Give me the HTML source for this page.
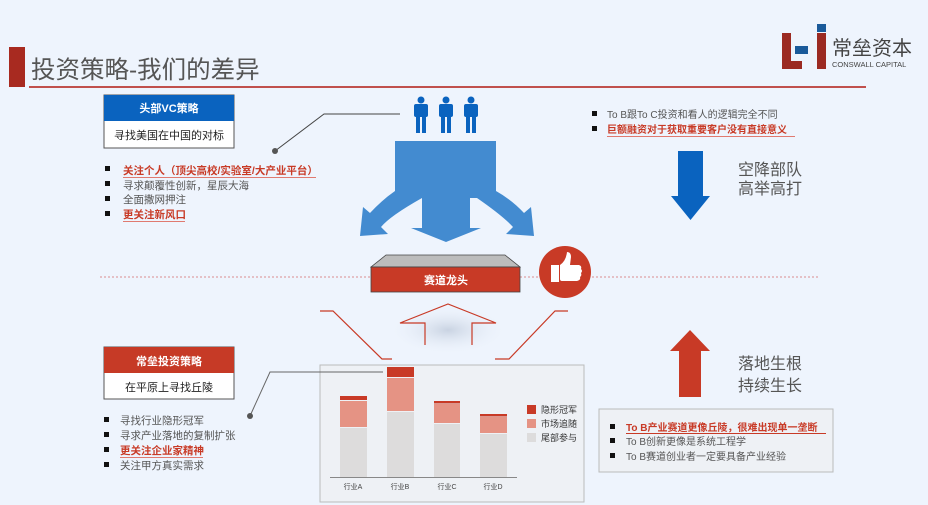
<!DOCTYPE html>
<html><head><meta charset="utf-8"><style>
body{margin:0;width:928px;height:505px;background:#eef4fd;overflow:hidden;font-family:"Liberation Sans","Noto Sans CJK SC",sans-serif;}
svg{position:absolute;left:0;top:0}
</style></head><body>
<svg width="928" height="505" viewBox="0 0 928 505" font-family="Liberation Sans, Noto Sans CJK SC, sans-serif">
<defs>
<radialGradient id="glow" cx="0.5" cy="0.5" r="0.5"><stop offset="0" stop-color="#c9d3e2"/><stop offset="1" stop-color="#eef4fd" stop-opacity="0"/></radialGradient>
</defs>
<!-- title -->
<rect x="9" y="47" width="16" height="40" fill="#a82a20"/>
<text x="31" y="78" font-size="24.5" fill="#555">投资策略-我们的差异</text>
<rect x="29" y="86" width="837" height="2" fill="#c0504d"/>
<!-- logo -->
<rect x="782" y="33" width="9" height="36" fill="#9b2a22"/>
<rect x="782" y="61" width="20" height="8" fill="#9b2a22"/>
<rect x="795" y="46" width="13" height="8" fill="#1a5a9a"/>
<rect x="817" y="33" width="9" height="36" fill="#9b2a22"/>
<rect x="817" y="24" width="9" height="8" fill="#1a5a9a"/>
<text x="832" y="55" font-size="20" fill="#444">常垒资本</text>
<text x="832" y="67" font-size="7.5" fill="#444">CONSWALL CAPITAL</text>
<!-- VC box -->
<rect x="104" y="95" width="130" height="53" fill="#fff" stroke="#555"/>
<rect x="104" y="95" width="130" height="26" fill="#0a63bf"/>
<text x="169" y="112" font-size="11" font-weight="bold" fill="#fff" text-anchor="middle">头部VC策略</text>
<text x="169" y="139" font-size="11" fill="#222" text-anchor="middle">寻找美国在中国的对标</text>
<!-- VC bullets -->
<g font-size="10.5" fill="#555">
<rect x="105" y="166" width="5" height="5" fill="#111"/><text x="123" y="174" fill="#c83a26" font-weight="bold">关注个人（顶尖高校/实验室/大产业平台）</text>
<rect x="123" y="177" width="193" height="1" fill="#e07a70"/>
<rect x="105" y="181" width="5" height="5" fill="#111"/><text x="123" y="189">寻求颠覆性创新，星辰大海</text>
<rect x="105" y="196" width="5" height="5" fill="#111"/><text x="123" y="203">全面撒网押注</text>
<rect x="105" y="211" width="5" height="5" fill="#111"/><text x="123" y="218" fill="#c83a26" font-weight="bold">更关注新风口</text>
<rect x="123" y="221" width="62" height="1" fill="#e07a70"/>
</g>
<polyline points="275,151 324,114 400,114" fill="none" stroke="#444" stroke-width="1"/>
<circle cx="275" cy="151" r="3" fill="#555"/>
<!-- people -->
<g fill="#0a63bf">
<g id="p"><circle cx="421" cy="100" r="3.5"/><rect x="414" y="104" width="14" height="13" rx="2"/><rect x="416" y="115" width="4" height="18"/><rect x="422" y="115" width="4" height="18"/></g>
<use href="#p" x="25"/><use href="#p" x="50"/>
</g>
<!-- blue split arrow -->
<path fill="#438bd0" d="M395,141 H496 V191 Q512,200 524,213 L531,207 L534,236 L506,234 L513,227 Q503,216 477,198 H470 V228 H481 L446,242 L411,228 H422 V198 Q390,216 381,227 L388,234 L360,236 L363,207 L370,213 Q382,200 395,191 Z"/>
<!-- dotted line -->
<line x1="100" y1="277" x2="820" y2="277" stroke="#d98c90" stroke-width="1" stroke-dasharray="2,2"/>
<!-- 赛道龙头 -->
<polygon points="371,267 520,267 505,255 386,255" fill="#bcbcbc" stroke="#444" stroke-width="0.8"/>
<rect x="371" y="267" width="149" height="25" fill="#c83a26" stroke="#444" stroke-width="0.8"/>
<text x="446" y="284" font-size="11" font-weight="bold" fill="#fff" text-anchor="middle">赛道龙头</text>
<!-- thumbs -->
<circle cx="565" cy="272" r="26" fill="#c83a26"/>
<path d="M551,265 h8 v17 h-8 z M560,265 q6,-4 7,-13 q4,0 4,5 l-1,8 h9 q3,1 2,4 q2,2 0,4 q1,3 -1,4 q1,3 -3,4 h-15 q-2,0 -2,-2 z" fill="#fff"/>
<!-- red lines -->
<ellipse cx="448" cy="330" rx="60" ry="25" fill="url(#glow)"/>
<g fill="none" stroke="#c83a26" stroke-width="1.2">
<polyline points="320,311 333,311 382,359 392,359"/>
<polyline points="568,311 555,311 509,359 495,359"/>
<polyline points="425,345 425,323 400,323 448,304 496,323 472,323 472,345"/>
</g>
<!-- chart -->
<rect x="320" y="365" width="264" height="137" fill="#eef1f5" stroke="#bbb"/>
<g>
<rect x="340" y="428" width="27" height="49" fill="#dddcdc"/><rect x="340" y="401" width="27" height="26" fill="#e59384"/><rect x="340" y="396" width="27" height="4" fill="#c83a26"/>
<rect x="387" y="412" width="27" height="65" fill="#dddcdc"/><rect x="387" y="378" width="27" height="33" fill="#e59384"/><rect x="387" y="367" width="27" height="10" fill="#c83a26"/>
<rect x="434" y="424" width="26" height="53" fill="#dddcdc"/><rect x="434" y="404" width="26" height="19" fill="#e59384"/><rect x="434" y="401" width="26" height="2.5" fill="#c83a26"/>
<rect x="480" y="434" width="27" height="43" fill="#dddcdc"/><rect x="480" y="417" width="27" height="16" fill="#e59384"/><rect x="480" y="414" width="27" height="2.5" fill="#c83a26"/>
</g>
<line x1="330" y1="477.5" x2="517" y2="477.5" stroke="#888"/>
<g font-size="7" fill="#444" text-anchor="middle"><text x="353" y="489">行业A</text><text x="400" y="489">行业B</text><text x="447" y="489">行业C</text><text x="493" y="489">行业D</text></g>
<rect x="527" y="405" width="9" height="9" fill="#c83a26"/><text x="541" y="413" font-size="9" fill="#333">隐形冠军</text>
<rect x="527" y="419" width="9" height="9" fill="#e59384"/><text x="541" y="427" font-size="9" fill="#333">市场追随</text>
<rect x="527" y="433" width="9" height="9" fill="#dddcdc"/><text x="541" y="441" font-size="9" fill="#333">尾部参与</text>
<polyline points="250,416 270,372 383,372" fill="none" stroke="#666" stroke-width="1"/>
<circle cx="250" cy="416" r="3" fill="#555"/>
<!-- 常垒 box -->
<rect x="104" y="347" width="130" height="52" fill="#fff" stroke="#555"/>
<rect x="104" y="347" width="130" height="26" fill="#c63a26"/>
<text x="169" y="365" font-size="11" font-weight="bold" fill="#fff" text-anchor="middle">常垒投资策略</text>
<text x="169" y="391" font-size="11" fill="#222" text-anchor="middle">在平原上寻找丘陵</text>
<g font-size="10.5" fill="#555">
<rect x="104" y="417" width="5" height="5" fill="#111"/><text x="120" y="424">寻找行业隐形冠军</text>
<rect x="104" y="432" width="5" height="5" fill="#111"/><text x="120" y="439">寻求产业落地的复制扩张</text>
<rect x="104" y="447" width="5" height="5" fill="#111"/><text x="120" y="454" fill="#c83a26" font-weight="bold">更关注企业家精神</text>
<rect x="120" y="457" width="83" height="1" fill="#e07a70"/>
<rect x="104" y="462" width="5" height="5" fill="#111"/><text x="120" y="469">关注甲方真实需求</text>
</g>
<!-- right top -->
<g font-size="10" fill="#555">
<rect x="592" y="111" width="5" height="5" fill="#111"/><text x="607" y="118">To B跟To C投资和看人的逻辑完全不同</text>
<rect x="592" y="126" width="5" height="5" fill="#111"/><text x="607" y="133" fill="#c83a26" font-weight="bold">巨额融资对于获取重要客户没有直接意义</text>
<rect x="607" y="136" width="188" height="1" fill="#e07a70"/>
</g>
<polygon points="678,151 703,151 703,196 710,196 690.5,220 671,196 678,196" fill="#0a63bf"/>
<text x="738" y="175" font-size="16" fill="#555">空降部队</text>
<text x="738" y="194" font-size="16" fill="#555">高举高打</text>
<polygon points="690,330 710,351 701,351 701,397 679,397 679,351 670,351" fill="#c83a26"/>
<text x="738" y="369" font-size="16" fill="#555">落地生根</text>
<text x="738" y="391" font-size="16" fill="#555">持续生长</text>
<rect x="599" y="409" width="234" height="63" fill="#eef1f5" stroke="#bbb"/>
<g font-size="10" fill="#555">
<rect x="610" y="424" width="5" height="5" fill="#111"/><text x="626" y="431" fill="#c83a26" font-weight="bold">To B产业赛道更像丘陵，很难出现单一垄断</text>
<rect x="626" y="433" width="200" height="1" fill="#c83a26"/>
<rect x="610" y="438" width="5" height="5" fill="#111"/><text x="626" y="445">To B创新更像是系统工程学</text>
<rect x="610" y="453" width="5" height="5" fill="#111"/><text x="626" y="460">To B赛道创业者一定要具备产业经验</text>
</g>
</svg>
</body></html>
